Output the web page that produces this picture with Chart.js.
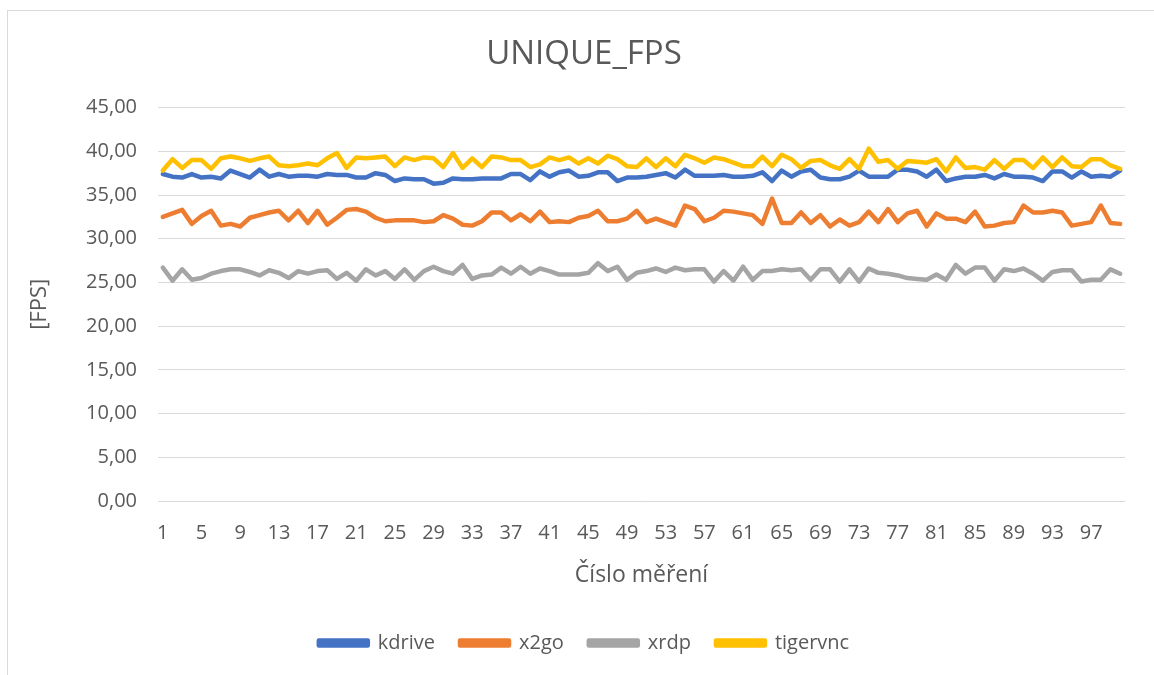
<!DOCTYPE html>
<html>
<head>
<meta charset="utf-8">
<script src="https://cdn.jsdelivr.net/npm/chart.js@4.4.1/dist/chart.umd.min.js"></script>
<style>
    html, body { margin: 0; padding: 0; background: #fff; }
    #wrap { position: relative; width: 1154px; height: 675px; overflow: hidden; }
    #frame { position: absolute; left: 7px; top: 10px; width: 1200px; height: 700px; border: 1px solid #d9d9d9; }
    #chart { position: absolute; left: 0; top: 0; }
</style>
</head>
<body>
<div id="wrap">
    <div id="frame"></div>
    <canvas id="chart" width="1154" height="675"></canvas>
</div>
<script>
// measurement index 1..100
const categories = [
    1, 2, 3, 4, 5, 6, 7, 8, 9, 10, 11, 12, 13, 14, 15, 16, 17, 18, 19, 20,
    21, 22, 23, 24, 25, 26, 27, 28, 29, 30, 31, 32, 33, 34, 35, 36, 37, 38, 39, 40,
    41, 42, 43, 44, 45, 46, 47, 48, 49, 50, 51, 52, 53, 54, 55, 56, 57, 58, 59, 60,
    61, 62, 63, 64, 65, 66, 67, 68, 69, 70, 71, 72, 73, 74, 75, 76, 77, 78, 79, 80,
    81, 82, 83, 84, 85, 86, 87, 88, 89, 90, 91, 92, 93, 94, 95, 96, 97, 98, 99, 100
];

const kdrive = [
    37.4, 37.1, 37.0, 37.4, 37.0, 37.1, 36.9, 37.8, 37.4, 37.0, 37.9, 37.1, 37.4, 37.1, 37.2, 37.2, 37.1, 37.4, 37.3, 37.3, 37.0, 37.0, 37.5, 37.3, 36.6,
    36.9, 36.8, 36.8, 36.3, 36.4, 36.9, 36.8, 36.8, 36.9, 36.9, 36.9, 37.4, 37.4, 36.7, 37.7, 37.1, 37.6, 37.8, 37.1, 37.2, 37.6, 37.6, 36.6, 37.0, 37.0,
    37.1, 37.3, 37.5, 37.0, 37.9, 37.2, 37.2, 37.2, 37.3, 37.1, 37.1, 37.2, 37.6, 36.6, 37.8, 37.1, 37.7, 37.9, 37.0, 36.8, 36.8, 37.1, 37.8, 37.1, 37.1,
    37.1, 37.9, 37.9, 37.7, 37.1, 37.9, 36.6, 36.9, 37.1, 37.1, 37.3, 36.9, 37.4, 37.1, 37.1, 37.0, 36.6, 37.7, 37.7, 37.0, 37.7, 37.1, 37.2, 37.1, 37.8
];
const x2go = [
    32.5, 32.9, 33.3, 31.7, 32.6, 33.2, 31.5, 31.7, 31.4, 32.4, 32.7, 33.0, 33.2, 32.1, 33.2, 31.8, 33.2, 31.6, 32.4, 33.3, 33.4, 33.1, 32.4, 32.0, 32.1,
    32.1, 32.1, 31.9, 32.0, 32.7, 32.3, 31.6, 31.5, 32.0, 33.0, 33.0, 32.1, 32.8, 32.0, 33.1, 31.9, 32.0, 31.9, 32.4, 32.6, 33.2, 32.0, 32.0, 32.3, 33.2,
    31.9, 32.3, 31.9, 31.5, 33.8, 33.4, 32.0, 32.4, 33.2, 33.1, 32.9, 32.7, 31.7, 34.6, 31.8, 31.8, 33.0, 31.8, 32.7, 31.4, 32.2, 31.5, 31.9, 33.1, 31.9,
    33.4, 31.9, 32.9, 33.2, 31.4, 32.9, 32.3, 32.3, 31.9, 33.1, 31.4, 31.5, 31.8, 31.9, 33.8, 33.0, 33.0, 33.2, 33.0, 31.5, 31.7, 31.9, 33.8, 31.8, 31.7
];
const xrdp = [
    26.7, 25.2, 26.5, 25.3, 25.5, 26.0, 26.3, 26.5, 26.5, 26.2, 25.8, 26.4, 26.1, 25.5, 26.3, 26.0, 26.3, 26.4, 25.4, 26.1, 25.2, 26.5, 25.8, 26.3, 25.4,
    26.5, 25.3, 26.3, 26.8, 26.3, 26.0, 27.0, 25.4, 25.8, 25.9, 26.7, 26.0, 26.8, 26.0, 26.6, 26.3, 25.9, 25.9, 25.9, 26.1, 27.2, 26.3, 26.8, 25.3, 26.1,
    26.3, 26.6, 26.2, 26.7, 26.4, 26.5, 26.5, 25.1, 26.3, 25.2, 26.8, 25.3, 26.3, 26.3, 26.5, 26.4, 26.5, 25.3, 26.5, 26.5, 25.1, 26.5, 25.1, 26.6, 26.1,
    26.0, 25.8, 25.5, 25.4, 25.3, 25.9, 25.3, 27.0, 26.0, 26.7, 26.7, 25.2, 26.5, 26.3, 26.6, 26.0, 25.2, 26.2, 26.4, 26.4, 25.1, 25.3, 25.3, 26.5, 26.0
];
const tigervnc = [
    37.8, 39.1, 38.1, 39.0, 39.0, 38.0, 39.2, 39.4, 39.2, 38.9, 39.2, 39.4, 38.4, 38.3, 38.4, 38.6, 38.4, 39.2, 39.8, 38.1, 39.3, 39.2, 39.3, 39.4, 38.3,
    39.3, 39.0, 39.3, 39.2, 38.2, 39.8, 38.1, 39.2, 38.2, 39.4, 39.3, 39.0, 39.0, 38.2, 38.5, 39.3, 39.0, 39.3, 38.6, 39.2, 38.6, 39.5, 39.1, 38.3, 38.2,
    39.2, 38.2, 39.2, 38.3, 39.6, 39.2, 38.7, 39.3, 39.1, 38.7, 38.3, 38.3, 39.4, 38.3, 39.6, 39.1, 38.1, 38.9, 39.0, 38.4, 38.0, 39.1, 38.0, 40.3, 38.8,
    39.0, 38.0, 38.9, 38.8, 38.7, 39.1, 37.7, 39.3, 38.1, 38.2, 37.9, 39.0, 38.0, 39.0, 39.0, 38.1, 39.3, 38.2, 39.3, 38.3, 38.2, 39.1, 39.1, 38.4, 38.0
];

const seriesNames = ['kdrive', 'x2go', 'xrdp', 'tigervnc'];
const seriesColors = ['#4472C4', '#ED7D31', '#A5A5A5', '#FFC000'];
const seriesData = [kdrive, x2go, xrdp, tigervnc];

const textColor = '#595959';
const fontName = "'Open Sans', 'DejaVu Sans', sans-serif";

const datasets = seriesNames.map((name, i) => ({
    label: name,
    data: seriesData[i],
    borderColor: seriesColors[i],
    backgroundColor: seriesColors[i],
    borderWidth: 4.5,
    pointRadius: 0,
    tension: 0,
    borderJoinStyle: 'round',
    borderCapStyle: 'round',
    order: 3 - i  // later series drawn on top, like Excel
}));

const ctx = document.getElementById('chart').getContext('2d');
new Chart(ctx, {
    type: 'line',
    data: { labels: categories, datasets: datasets },
    options: {
        responsive: false,
        animation: false,
        layout: { padding: { left: 14, right: 0, top: 0, bottom: 12 } },
        plugins: {
            tooltip: { enabled: false },
            title: {
                display: true,
                text: 'UNIQUE_FPS',
                color: textColor,
                font: { family: fontName, size: 33, weight: 'normal' },
                padding: { top: 35, bottom: 33 }
            },
            legend: {
                position: 'bottom',
                labels: {
                    color: textColor,
                    font: { family: fontName, size: 20 },
                    boxWidth: 49,
                    boxHeight: 5,
                    padding: 25,
                    sort: (a, b) => a.datasetIndex - b.datasetIndex
                }
            }
        },
        scales: {
            x: {
                offset: true,
                grid: { display: false, drawTicks: false },
                border: { display: false },
                ticks: {
                    color: textColor,
                    font: { family: fontName, size: 20 },
                    autoSkip: false,
                    maxRotation: 0,
                    padding: 20,
                    callback: function (value, index) {
                        return index % 4 === 0 ? categories[index] : '';
                    }
                },
                title: {
                    display: true,
                    text: 'Číslo měření',
                    color: textColor,
                    font: { family: fontName, size: 23 },
                    padding: { top: 0, bottom: 19 }
                },
                afterFit: function (scale) { scale.height = 107; }
            },
            y: {
                min: 0,
                max: 45,
                grid: { color: '#d9d9d9', lineWidth: 1, drawTicks: false },
                border: { display: false },
                ticks: {
                    stepSize: 5,
                    color: textColor,
                    font: { family: fontName, size: 20 },
                    padding: 21,
                    callback: function (value) {
                        return value.toFixed(2).replace('.', ',');
                    }
                },
                title: {
                    display: true,
                    text: '[FPS]',
                    color: textColor,
                    font: { family: fontName, size: 22 },
                    padding: { top: 13, bottom: 0 }
                },
                afterFit: function (scale) { scale.width = 144; }
            },
            // empty spacer on the right so the plot ends where the reference does
            yRight: {
                position: 'right',
                grid: { display: false, drawTicks: false },
                border: { display: false },
                ticks: { display: false },
                afterFit: function (scale) { scale.width = 29; }
            }
        }
    }
});
</script>
</body>
</html>
